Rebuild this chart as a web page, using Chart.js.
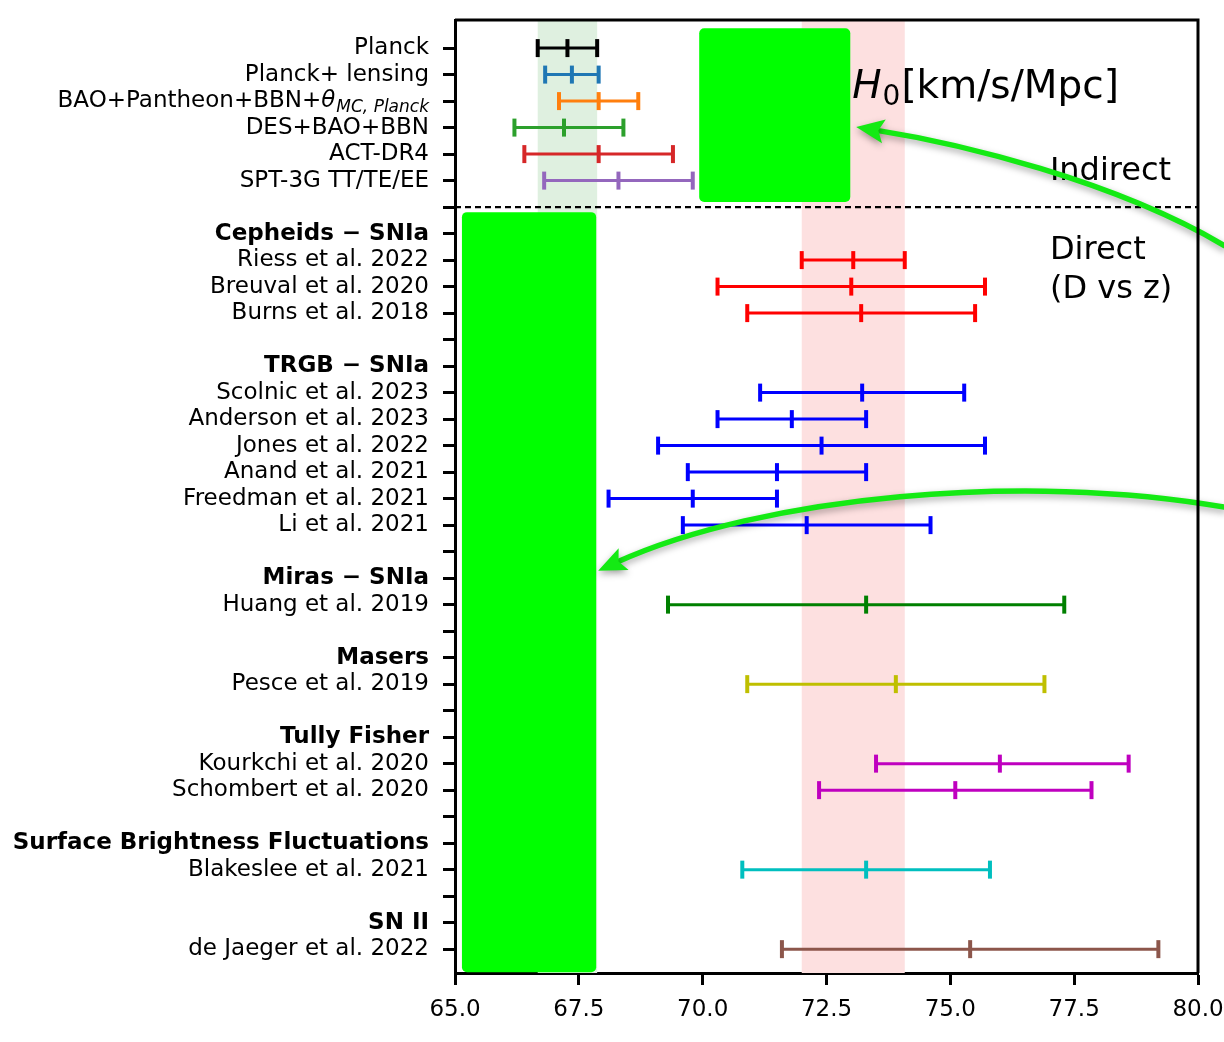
<!DOCTYPE html>
<html>
<head>
<meta charset="utf-8">
<script src="https://cdn.jsdelivr.net/npm/chart.js@4.4.0/dist/chart.umd.min.js"></script>
<style>
  html, body { margin: 0; padding: 0; background: #fff; }
  canvas { display: block; }
</style>
</head>
<body>
<canvas id="h0Chart" width="1224" height="1042"></canvas>
<script>
const FONT = "'DejaVu Sans', sans-serif";

// Row labels, top to bottom (index = y value)
const rowLabels = [
    'Planck', 'Planck+ lensing', 'BAO+Pantheon+BBN+θ', 'DES+BAO+BBN', 'ACT-DR4', 'SPT-3G TT/TE/EE',
    '',
    'Cepheids − SNIa', 'Riess et al. 2022', 'Breuval et al. 2020', 'Burns et al. 2018',
    '',
    'TRGB − SNIa', 'Scolnic et al. 2023', 'Anderson et al. 2023', 'Jones et al. 2022',
    'Anand et al. 2021', 'Freedman et al. 2021', 'Li et al. 2021',
    '',
    'Miras − SNIa', 'Huang et al. 2019',
    '',
    'Masers', 'Pesce et al. 2019',
    '',
    'Tully Fisher', 'Kourkchi et al. 2020', 'Schombert et al. 2020',
    '',
    'Surface Brightness Fluctuations', 'Blakeslee et al. 2021',
    '',
    'SN II', 'de Jaeger et al. 2022'
];
const headerRows = [7, 12, 20, 23, 26, 30, 33];
const baoRow = 2;
const dividerRow = 6;

// H0 measurements
const measRows     = [0, 1, 2, 3, 4, 5, 8, 9, 10, 13, 14, 15, 16, 17, 18, 21, 24, 27, 28, 31, 34];
const measCentre   = [67.27, 67.36, 67.9, 67.2, 67.9, 68.3, 73.04, 73.0, 73.2, 73.22, 71.8, 72.4, 71.5, 69.8, 72.1, 73.3, 73.9, 76.0, 75.1, 73.3, 75.4];
const measErrMinus = [0.6, 0.54, 0.8, 1.0, 1.5, 1.5, 1.04, 2.7, 2.3, 2.06, 1.5, 3.3, 1.8, 1.7, 2.5, 4.0, 3.0, 2.5, 2.75, 2.5, 3.8];
const measErrPlus  = [0.6, 0.54, 0.8, 1.2, 1.5, 1.5, 1.04, 2.7, 2.3, 2.06, 1.5, 3.3, 1.8, 1.7, 2.5, 4.0, 3.0, 2.6, 2.75, 2.5, 3.8];
const measColours  = ['#000000', '#1f77b4', '#ff7f0e', '#2ca02c', '#d62728', '#9467bd',
    '#ff0000', '#ff0000', '#ff0000',
    '#0000ff', '#0000ff', '#0000ff', '#0000ff', '#0000ff', '#0000ff',
    '#008000', '#bfbf00', '#bf00bf', '#bf00bf', '#00bfbf', '#8c564b'];

// Planck and SH0ES bands
const bandCentre = [67.27, 73.04];
const bandHalfWidth = [0.6, 1.04];
const bandColours = ['#dff0e0', '#fde0e0'];

// Axis ranges
const xMin = 65, xMax = 80, xStep = 2.5;
const yMin = -1.06, yMax = 34.9;

// Green highlight boxes and arrows (data units: x = H0, y = row)
const blobX = [[69.93, 72.98], [65.14, 67.85]];
const blobRows = [[-0.75, 5.81], [6.19, 34.87]];
const arrowPaths = [
    [[80.53, 7.45], [78.3, 5.0], [75.2, 3.6], [73.10, 2.98]],
    [[80.53, 17.32], [76.5, 16.0], [71.2, 16.9], [67.89, 19.72]]
];

function drawArrow(ctx, pts) {
    const [p0, c1, c2, p3] = pts;
    const ang = Math.atan2(p3.y - c2.y, p3.x - c2.x);
    const dx = Math.cos(ang), dy = Math.sin(ang);
    const headLen = 28, headW = 12;
    const base = { x: p3.x - dx * headLen * 0.7, y: p3.y - dy * headLen * 0.7 };
    ctx.save();
    ctx.shadowColor = 'rgba(0,0,0,0.35)';
    ctx.shadowBlur = 7;
    ctx.shadowOffsetY = 3;
    ctx.strokeStyle = '#14ea14';
    ctx.fillStyle = '#14ea14';
    ctx.lineWidth = 5.5;
    ctx.lineCap = 'round';
    ctx.beginPath();
    ctx.moveTo(p0.x, p0.y);
    ctx.bezierCurveTo(c1.x, c1.y, c2.x, c2.y, base.x, base.y);
    ctx.stroke();
    ctx.beginPath();
    ctx.moveTo(p3.x, p3.y);
    ctx.lineTo(p3.x - dx * headLen - dy * headW, p3.y - dy * headLen + dx * headW);
    ctx.lineTo(p3.x - dx * headLen * 0.8, p3.y - dy * headLen * 0.8);
    ctx.lineTo(p3.x - dx * headLen + dy * headW, p3.y - dy * headLen - dx * headW);
    ctx.closePath();
    ctx.fill();
    ctx.restore();
}

const decorPlugin = {
    id: 'decor',
    beforeDatasetsDraw(chart) {
        const { ctx, chartArea: a, scales: { x } } = chart;
        ctx.save();
        bandCentre.forEach((c, i) => {
            const l = x.getPixelForValue(c - bandHalfWidth[i]);
            const r = x.getPixelForValue(c + bandHalfWidth[i]);
            ctx.fillStyle = bandColours[i];
            ctx.fillRect(l, a.top, r - l, a.bottom - a.top);
        });
        ctx.restore();
    },
    afterDatasetsDraw(chart) {
        const { ctx, scales: { x, y } } = chart;
        ctx.save();
        // green boxes
        ctx.fillStyle = '#00ff00';
        blobX.forEach((bx, i) => {
            const l = x.getPixelForValue(bx[0]), r = x.getPixelForValue(bx[1]);
            const t = y.getPixelForValue(blobRows[i][0]), b = y.getPixelForValue(blobRows[i][1]);
            ctx.beginPath();
            ctx.roundRect(l, t, r - l, b - t, 5);
            ctx.fill();
        });

        // text annotations
        ctx.fillStyle = '#000';
        ctx.textBaseline = 'alphabetic';
        ctx.textAlign = 'left';
        let tx = x.getPixelForValue(73.02);
        const ty = y.getPixelForValue(1.89);
        ctx.font = 'oblique 39px ' + FONT;
        ctx.fillText('H', tx, ty);
        tx += ctx.measureText('H').width + 1;
        ctx.font = '28px ' + FONT;
        ctx.fillText('0', tx, ty + 7);
        tx += ctx.measureText('0').width + 1;
        ctx.font = '39px ' + FONT;
        ctx.fillText('[km/s/Mpc]', tx, ty);

        ctx.font = '32px ' + FONT;
        const lx = x.getPixelForValue(77.01);
        ctx.fillText('Indirect', lx, y.getPixelForValue(4.98));
        ctx.fillText('Direct', lx, y.getPixelForValue(7.96));
        ctx.fillText('(D vs z)', lx, y.getPixelForValue(9.43));
        ctx.restore();

        arrowPaths.forEach(path => {
            drawArrow(ctx, path.map(p => ({ x: x.getPixelForValue(p[0]), y: y.getPixelForValue(p[1]) })));
        });
    },
    afterDraw(chart) {
        const { ctx, chartArea: a, scales: { y } } = chart;
        ctx.save();
        // top and right frame
        ctx.strokeStyle = '#000';
        ctx.lineWidth = 3;
        ctx.beginPath();
        ctx.moveTo(a.left, a.top);
        ctx.lineTo(a.right, a.top);
        ctx.lineTo(a.right, a.bottom);
        ctx.stroke();

        // BAO label with theta subscript
        const yy = y.getPixelForValue(baoRow);
        const right = y.right - 12 - 14;
        const main = 'BAO+Pantheon+BBN+', sub = 'MC, Planck';
        ctx.textBaseline = 'middle';
        ctx.textAlign = 'left';
        ctx.font = '23px ' + FONT;
        const w1 = ctx.measureText(main).width;
        ctx.font = 'oblique 23px ' + FONT;
        const w2 = ctx.measureText('θ').width;
        ctx.font = 'oblique 17px ' + FONT;
        const w3 = ctx.measureText(sub).width;
        let sx = right - (w1 + w2 + w3 + 1);
        ctx.fillStyle = '#000';
        ctx.font = '23px ' + FONT;
        ctx.fillText(main, sx, yy);
        sx += w1;
        ctx.font = 'oblique 23px ' + FONT;
        ctx.fillText('θ', sx, yy);
        sx += w2 + 1;
        ctx.font = 'oblique 17px ' + FONT;
        ctx.fillText(sub, sx, yy + 6);
        ctx.restore();
    }
};

// Error bar datasets
const datasets = measRows.map((row, i) => ({
    data: [
        { x: measCentre[i] - measErrMinus[i], y: row },
        { x: measCentre[i], y: row },
        { x: measCentre[i] + measErrPlus[i], y: row }
    ],
    showLine: true,
    borderColor: measColours[i],
    borderWidth: 3,
    pointStyle: 'line',
    pointRotation: 90,
    pointRadius: 9,
    pointHoverRadius: 9,
    pointBorderWidth: 4,
    pointBorderColor: measColours[i]
}));
datasets.push({
    data: [{ x: xMin, y: dividerRow }, { x: xMax, y: dividerRow }],
    showLine: true,
    borderColor: '#000',
    borderWidth: 2.2,
    borderDash: [6, 4],
    pointRadius: 0
});

const ctx = document.getElementById('h0Chart').getContext('2d');
new Chart(ctx, {
    type: 'scatter',
    data: { datasets },
    options: {
        responsive: false,
        animation: false,
        layout: { padding: { top: 20, right: 26, left: 0, bottom: 0 } },
        plugins: { legend: { display: false }, tooltip: { enabled: false } },
        scales: {
            x: {
                type: 'linear',
                position: 'bottom',
                min: xMin,
                max: xMax,
                afterFit: s => { s.height = 69; s.paddingLeft = 0; s.paddingRight = 0; },
                ticks: {
                    stepSize: xStep,
                    maxRotation: 0,
                    callback: v => Number(v).toFixed(1),
                    font: { family: FONT, size: 23 },
                    color: '#000',
                    padding: 11
                },
                grid: { drawOnChartArea: false, tickLength: 12, tickWidth: 3, tickColor: '#000' },
                border: { display: true, width: 3, color: '#000' }
            },
            y: {
                type: 'linear',
                min: yMin,
                max: yMax,
                reverse: true,
                afterFit: s => { s.width = 455; s.paddingTop = 0; s.paddingBottom = 0; },
                afterBuildTicks: s => { s.ticks = rowLabels.map((_, i) => ({ value: i })); },
                ticks: {
                    autoSkip: false,
                    callback: v => (v === baoRow ? '' : rowLabels[v]),
                    font: c => ({ family: FONT, size: 23, weight: headerRows.includes(c.tick && c.tick.value) ? 'bold' : 'normal' }),
                    color: '#000',
                    padding: 14
                },
                grid: { drawOnChartArea: false, tickLength: 12, tickWidth: 3, tickColor: '#000' },
                border: { display: true, width: 3, color: '#000' }
            }
        }
    },
    plugins: [decorPlugin]
});
</script>
</body>
</html>
